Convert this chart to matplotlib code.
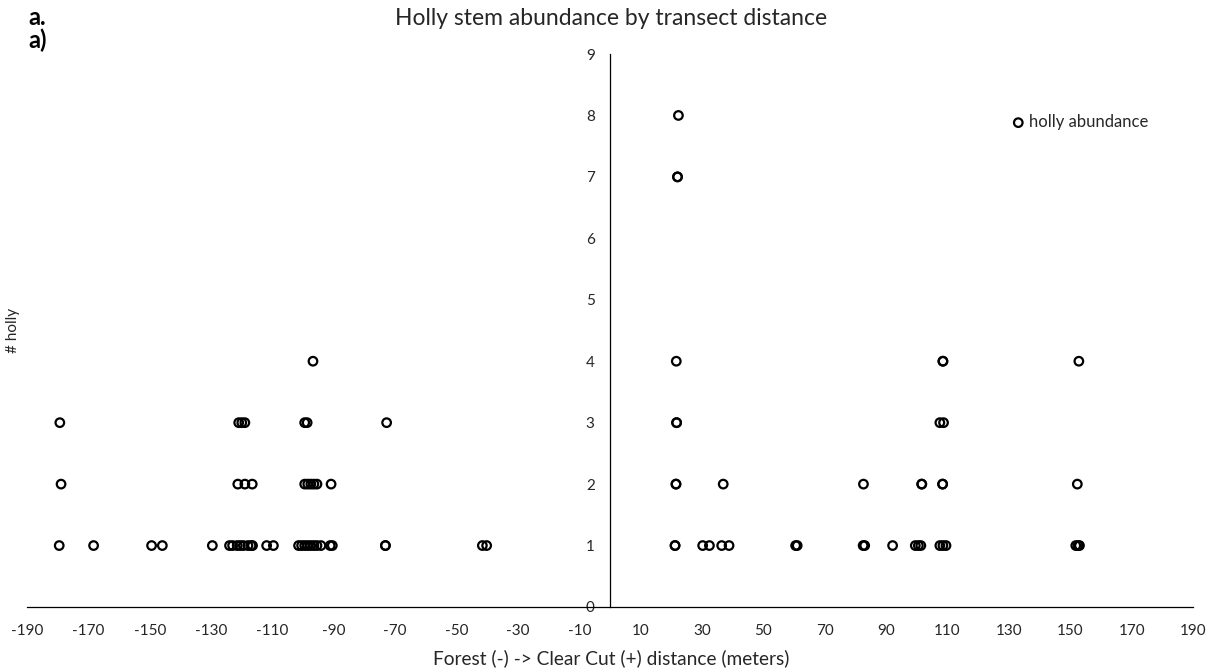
import numpy as np
import matplotlib.pyplot as plt

plt.rcParams['font.family'] = ['Lato', 'DejaVu Sans']
plt.rcParams['axes.unicode_minus'] = False

# distance (m) of each plot, grouped by number of holly stems
dist_1 = [-179.5, -168.3, -149.4, -145.9, -129.6, -124.0, -123.0, -121.5, -120.5,
          -119.5, -118.0, -117.0, -116.5, -111.9, -109.7, -101.5, -100.5, -99.5,
          -98.5, -97.5, -96.5, -95.5, -94.2, -91.2, -90.5, -73.2, -73.2, -41.6, -40.2,
          21.2, 21.2, 30.2, 32.4, 36.4, 38.8, 60.5, 61.0, 82.5, 83.0, 92.1,
          99.5, 100.5, 101.3, 107.5, 108.5, 109.5, 151.8, 152.5, 153.0]
dist_2 = [-178.9, -121.3, -119.0, -116.6, -99.5, -98.5, -97.5, -96.5, -95.5, -90.9,
          21.5, 21.5, 36.9, 82.6, 101.6, 101.6, 108.4, 108.4, 152.3]
dist_3 = [-179.3, -121.0, -120.0, -119.0, -99.5, -98.7, -72.8,
          21.7, 21.7, 107.5, 108.7]
dist_4 = [-96.8, 21.6, 108.5, 108.5, 152.8]
dist_7 = [22.0, 22.0]
dist_8 = [22.3]

counts = [1, 2, 3, 4, 7, 8]
groups = [dist_1, dist_2, dist_3, dist_4, dist_7, dist_8]

x_ticks = list(range(-190, 191, 20))
y_ticks = list(range(0, 10))

x = np.concatenate([np.array(g) for g in groups])
y = np.concatenate([np.full(len(g), c) for g, c in zip(groups, counts)])

fig = plt.figure(figsize=(12.17, 6.70), dpi=100)
ax = fig.add_axes([27 / 1217, 63 / 670, 1166 / 1217, 553 / 670])

ax.scatter(x, y, s=38, marker='o', facecolors='none', edgecolors='black',
           linewidths=1.6, label='holly abundance', zorder=3)

ax.set_xlim(-190, 190)
ax.set_ylim(0, 9)
ax.set_xticks(x_ticks)
ax.set_yticks(y_ticks)
ax.tick_params(axis='both', length=0, labelsize=11, colors='#262626')
ax.tick_params(axis='x', pad=12)
ax.tick_params(axis='y', pad=11)

for side in ['top', 'right']:
    ax.spines[side].set_visible(False)
ax.spines['left'].set_position(('data', 0))
ax.spines['left'].set_zorder(1)
for side in ['left', 'bottom']:
    ax.spines[side].set_linewidth(0.9)
    ax.spines[side].set_color('black')

ax.legend(loc='center left', bbox_to_anchor=(0.843, 0.877), frameon=False,
          handletextpad=0.15, fontsize=12, borderaxespad=0, handlelength=1.0,
          borderpad=0, labelcolor='#262626')

fig.text(0.502, 0.973, 'Holly stem abundance by transect distance',
         ha='center', va='center', fontsize=16.5, color='#262626')
fig.text(0.502, 0.018, 'Forest (-) -> Clear Cut (+) distance (meters)',
         ha='center', va='center', fontsize=13.8, color='#262626')
fig.text(0.011, 0.507, '# holly', ha='center', va='center', rotation=90,
         fontsize=11, color='#262626')
fig.text(0.023, 1 - 25 / 670, 'a.', ha='left', va='baseline', fontsize=17, fontweight='bold')
fig.text(0.023, 1 - 48 / 670, 'a)', ha='left', va='baseline', fontsize=17, fontweight='bold')

fig.savefig('out.png', dpi=100)
